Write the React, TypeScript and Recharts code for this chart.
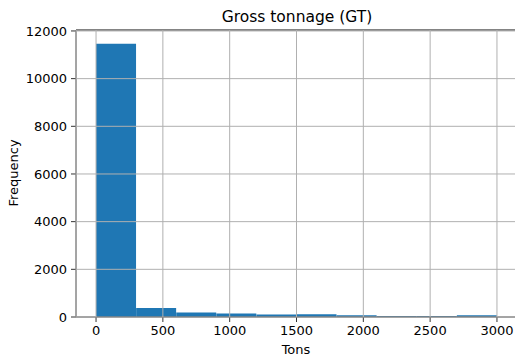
import { BarChart, Bar, XAxis, YAxis, CartesianGrid, Label } from "recharts";

// histogram of gross tonnage, 10 bins of 300 t
const binEdges = [0, 300, 600, 900, 1200, 1500, 1800, 2100, 2400, 2700, 3000];
const binCounts = [11460, 380, 185, 143, 100, 113, 70, 40, 40, 70];
const xTicks = [0, 500, 1000, 1500, 2000, 2500, 3000];
const yTicks = [0, 2000, 4000, 6000, 8000, 10000, 12000];

const data = binCounts.map((count, i) => ({
  mid: (binEdges[i] + binEdges[i + 1]) / 2,
  count,
}));

const font = "DejaVu Sans, sans-serif";
const ink = "#000";
const spine = "#333";

export default function App() {
  return (
    <div
      style={{
        position: "fixed",
        left: 0,
        top: 0,
        width: 515,
        height: 358,
        overflow: "hidden",
        background: "#fff",
        fontFamily: font,
      }}
    >
      <BarChart
        width={530}
        height={358}
        data={data}
        barCategoryGap={0}
        barGap={0}
        margin={{ top: 29, right: 13, left: 0, bottom: 0 }}
      >
        <Bar
          dataKey="count"
          fill="#1f77b4"
          isAnimationActive={false}
        />
        <CartesianGrid stroke="#b0b0b0" strokeWidth={1} zIndex={600} />
        <XAxis
          dataKey="mid"
          type="number"
          domain={[-150, 3150]}
          ticks={xTicks}
          allowDataOverflow
          height={41}
          tickSize={5}
          tickMargin={4}
          stroke={spine}
          tick={{ fill: ink, fontSize: 13, fontFamily: font }}
        >
          <Label
            content={() => (
              <text
                x={296}
                y={354}
                textAnchor="middle"
                fill={ink}
                fontSize={13}
                fontFamily={font}
              >
                Tons
              </text>
            )}
          />
          <Label
            content={() => (
              <text
                x={297}
                y={22}
                textAnchor="middle"
                fill={ink}
                fontSize={15.5}
                fontFamily={font}
              >
                Gross tonnage (GT)
              </text>
            )}
          />
        </XAxis>
        <XAxis
          xAxisId="top"
          orientation="top"
          dataKey="mid"
          type="number"
          domain={[-150, 3150]}
          height={1}
          tick={false}
          tickLine={false}
          axisLine={{ stroke: "#222", strokeWidth: 1.4 }}
        />
        <YAxis
          domain={[0, 12040]}
          ticks={yTicks}
          allowDataOverflow
          width={76}
          tickSize={5}
          tickMargin={4}
          stroke={spine}
          tick={{ fill: ink, fontSize: 13, fontFamily: font }}
        >
          <Label
            content={() => (
              <text
                x={18}
                y={173}
                transform="rotate(-90 18 173)"
                textAnchor="middle"
                fill={ink}
                fontSize={13}
                fontFamily={font}
              >
                Frequency
              </text>
            )}
          />
        </YAxis>
      </BarChart>
    </div>
  );
}
